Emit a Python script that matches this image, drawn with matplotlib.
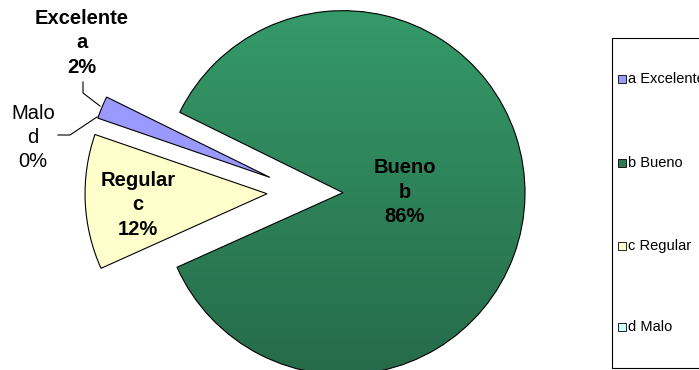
import numpy as np
import matplotlib
matplotlib.use("Agg")
import matplotlib.pyplot as plt
from matplotlib.patches import Rectangle
from matplotlib.colors import LinearSegmentedColormap

plt.rcParams['font.family'] = ['Liberation Sans', 'DejaVu Sans']

# ---- data ----
categories = ["Excelente", "Bueno", "Regular", "Malo"]
letters = ["a", "b", "c", "d"]
values = [2, 86, 12, 0]
colors = ["#9999FF", "#2E8B5C", "#FFFFCC", "#CCFFFF"]
pct_labels = ["2%", "86%", "12%", "0%"]

W, H = 699, 370
fig = plt.figure(figsize=(W / 100, H / 100), dpi=100)
ax = fig.add_axes([0, 0, 1, 1])

def py(y):
    return H - y

center = (305, py(192))
radius = 182
explode_px = 38

wedges, _ = ax.pie(values, explode=[explode_px] * 4, startangle=161,
                   counterclock=False, radius=radius, center=center,
                   colors=colors,
                   wedgeprops=dict(edgecolor='black', linewidth=0.8))
wedges[3].set_visible(False)

# gradient fill for the big wedge
bw = wedges[1]
bw.set_facecolor('none')
bw.set_zorder(3)
cx, cy = bw.center
cmap = LinearSegmentedColormap.from_list('g', ["#266B4A", "#359A69"])
grad = np.linspace(0, 1, 256).reshape(-1, 1)
im = ax.imshow(grad, cmap=cmap, origin='lower', aspect='auto',
               extent=(cx - radius, cx + radius, cy - radius, cy + radius),
               zorder=2)
im.set_clip_path(bw)

ax.set_xlim(0, W)
ax.set_ylim(0, H)
ax.set_aspect('auto')
ax.axis('off')

fs = 14.5
ls = 1.35
# data labels
ax.text(82, py(43), f"{categories[0]}\n{letters[0]}\n{pct_labels[0]}", ha='center', va='center',
        fontsize=fs, fontweight='bold', linespacing=ls, zorder=5)
ax.text(405, py(192), f"{categories[1]}\n{letters[1]}\n{pct_labels[1]}", ha='center', va='center',
        fontsize=fs, fontweight='bold', linespacing=ls, zorder=5)
ax.text(138, py(205), f"{categories[2]}\n{letters[2]}\n{pct_labels[2]}", ha='center', va='center',
        fontsize=fs, fontweight='bold', linespacing=ls, zorder=5)
ax.text(33, py(137.5), f"{categories[3]}\n{letters[3]}\n{pct_labels[3]}", ha='center', va='center',
        fontsize=fs, linespacing=ls, zorder=5)

# leader lines
ax.plot([83, 83, 100], [py(82), py(93), py(106)], color='black', lw=0.8, zorder=4)
ax.plot([58, 70, 97], [py(135), py(135), py(117)], color='black', lw=0.8, zorder=4)

# legend
ax.add_patch(Rectangle((612, py(368)), 200, 330, facecolor='white',
                       edgecolor='black', lw=0.8, zorder=1, clip_on=True))
leg_y = [79, 163, 246, 327]
for c, cat, let, yy in zip(colors, categories, letters, leg_y):
    col = c if cat != "Bueno" else "#2A7A52"
    ax.add_patch(Rectangle((618, py(yy) - 4), 8, 8, facecolor=col,
                           edgecolor='black', lw=0.6, zorder=5))
    ax.text(628, py(yy), f"{let} {cat}", ha='left', va='center',
            fontsize=10.5, zorder=5)

fig.savefig("out.png", dpi=100)
